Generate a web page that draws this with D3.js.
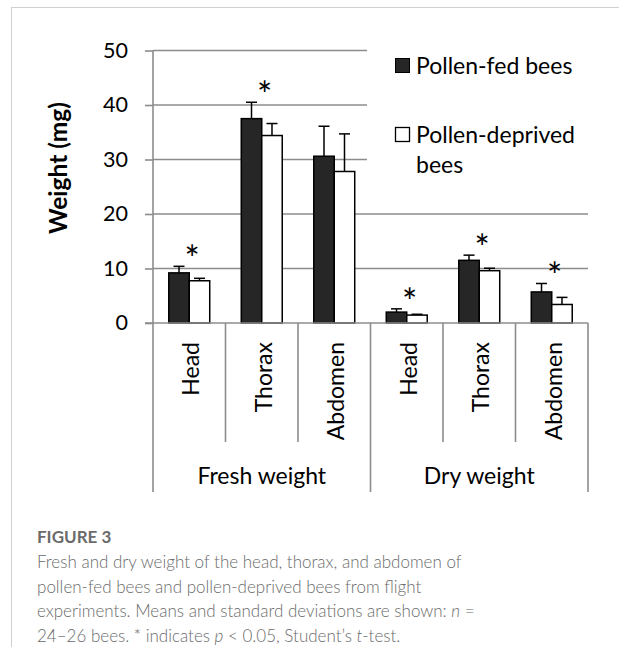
<!DOCTYPE html>
<html>
<head>
<meta charset="utf-8">
<script src="https://cdn.jsdelivr.net/npm/d3@7"></script>
<style>
  html, body { margin: 0; padding: 0; background: #fff; }
  svg { display: block; }
</style>
</head>
<body>
<svg id="chart" width="619" height="659"></svg>
<script>
// ---- data ----
const groups = ["Fresh weight", "Dry weight"];
const parts = ["Head", "Thorax", "Abdomen"];
const seriesNames = ["Pollen-fed bees", "Pollen-deprived bees"];
const fedMeans = [9.2, 37.5, 30.6, 2.0, 11.5, 5.7];
const fedSD = [1.2, 3.0, 5.5, 0.6, 0.95, 1.55];
const deprivedMeans = [7.75, 34.4, 27.8, 1.45, 9.6, 3.4];
const deprivedSD = [0.45, 2.2, 6.9, 0.15, 0.45, 1.3];
const significant = [true, true, false, true, true, true];
const yTicks = [0, 10, 20, 30, 40, 50];

(function () {
const categories = [];
groups.forEach(g => parts.forEach(p => categories.push({ id: g + "|" + p, group: g, part: p })));
categories.forEach((c, i) => {
  c.values = [
    { s: seriesNames[0], mean: fedMeans[i], sd: fedSD[i] },
    { s: seriesNames[1], mean: deprivedMeans[i], sd: deprivedSD[i] }
  ];
  c.sig = significant[i];
});

const svg = d3.select("#chart");
const FONT = "Lato, 'Open Sans', sans-serif";
const GRID = "#8c8c8c";

// frame
svg.append("line").attr("x1", 11).attr("x2", 619).attr("y1", 7.5).attr("y2", 7.5)
  .attr("stroke", "#d0d0d0").attr("stroke-width", 1);
svg.append("line").attr("x1", 11.5).attr("x2", 11.5).attr("y1", 7).attr("y2", 647)
  .attr("stroke", "#d0d0d0").attr("stroke-width", 1);

const pLeft = 153, pRight = 588, pTop = 50.5, pBottom = 323;
const x0 = d3.scaleBand().domain(categories.map(c => c.id)).range([pLeft, pRight]).paddingInner(0).paddingOuter(0);
const x1 = d3.scaleBand().domain(seriesNames).range([0, x0.bandwidth()]).paddingInner(0).paddingOuter(0.77);
const y = d3.scaleLinear().domain([0, 50]).range([pBottom, pTop]);

// gridlines
svg.append("g").selectAll("line").data(yTicks.filter(t => t > 0)).join("line")
  .attr("x1", pLeft).attr("x2", pRight)
  .attr("y1", d => y(d)).attr("y2", d => y(d))
  .attr("stroke", GRID).attr("stroke-width", 1.6);

// y axis
const yAxis = svg.append("g").attr("transform", `translate(${pLeft},0)`)
  .call(d3.axisLeft(y).tickValues(yTicks).tickSize(8).tickPadding(17));
yAxis.select(".domain").attr("stroke", GRID).attr("stroke-width", 1.6).attr("d", `M-0,${pTop}V${pBottom}`);
yAxis.selectAll(".tick line").attr("stroke", GRID).attr("stroke-width", 1.6);
yAxis.selectAll(".tick text").attr("font-family", FONT).attr("font-size", 21.5).attr("fill", "#000");

// legend background (masks gridlines)
svg.append("rect").attr("x", 367).attr("y", 40).attr("width", 223).attr("height", 135).attr("fill", "#fff");

// bars
const cat = svg.append("g").selectAll("g").data(categories).join("g")
  .attr("transform", d => `translate(${x0(d.id)},0)`);

cat.selectAll("rect").data(d => d.values).join("rect")
  .attr("x", d => x1(d.s)).attr("width", x1.bandwidth())
  .attr("y", d => y(d.mean)).attr("height", d => y(0) - y(d.mean))
  .attr("fill", d => d.s === seriesNames[0] ? "#262626" : "#fff")
  .attr("stroke", "#000").attr("stroke-width", 1.5);

// error bars
const err = cat.selectAll("g.err").data(d => d.values).join("g").attr("class", "err");
err.append("line")
  .attr("x1", d => x1(d.s) + x1.bandwidth() / 2).attr("x2", d => x1(d.s) + x1.bandwidth() / 2)
  .attr("y1", d => y(d.mean)).attr("y2", d => y(d.mean + d.sd))
  .attr("stroke", "#000").attr("stroke-width", 1.5);
err.append("line")
  .attr("x1", d => x1(d.s) + x1.bandwidth() / 2 - 5.5).attr("x2", d => x1(d.s) + x1.bandwidth() / 2 + 5.5)
  .attr("y1", d => y(d.mean + d.sd)).attr("y2", d => y(d.mean + d.sd))
  .attr("stroke", "#000").attr("stroke-width", 1.5);

// asterisks
cat.filter(d => d.sig).append("text")
  .attr("x", x0.bandwidth() / 2 + 3)
  .attr("y", d => y(d3.max(d.values, v => v.mean + v.sd)) + 6)
  .attr("text-anchor", "middle").attr("font-family", FONT).attr("font-size", 36).attr("fill", "#000")
  .text("*");

// x axis line
svg.append("line").attr("x1", pLeft - 8).attr("x2", pRight).attr("y1", pBottom).attr("y2", pBottom)
  .attr("stroke", GRID).attr("stroke-width", 1.6);

// separators
const boundaries = d3.range(categories.length + 1);
svg.append("g").selectAll("line").data(boundaries).join("line")
  .attr("x1", i => pLeft + i * x0.step()).attr("x2", i => pLeft + i * x0.step())
  .attr("y1", pBottom).attr("y2", i => (i % parts.length === 0) ? 492 : 442)
  .attr("stroke", GRID).attr("stroke-width", 1.6);

// category labels
svg.append("g").selectAll("text").data(categories).join("text")
  .attr("transform", d => `translate(${x0(d.id) + x0.bandwidth() / 2 + 1},342) rotate(-90)`)
  .attr("text-anchor", "end").attr("dominant-baseline", "central")
  .attr("font-family", FONT).attr("font-size", 23).attr("fill", "#000")
  .text(d => d.part);

// group labels
svg.append("g").selectAll("text").data(groups).join("text")
  .attr("x", g => {
    const ids = categories.filter(c => c.group === g).map(c => c.id);
    return (x0(ids[0]) + x0(ids[ids.length - 1]) + x0.bandwidth()) / 2;
  })
  .attr("y", 484)
  .attr("text-anchor", "middle").attr("font-family", FONT).attr("font-size", 23).attr("fill", "#000")
  .text(g => g);

// y title
svg.append("text").attr("transform", "translate(57,168) rotate(-90)")
  .attr("text-anchor", "middle").attr("dominant-baseline", "central")
  .attr("font-family", FONT).attr("font-weight", "bold").attr("font-size", 24.5).attr("fill", "#000")
  .text("Weight (mg)");

// legend
const legend = svg.append("g");
legend.append("rect").attr("x", 395.5).attr("y", 58.5).attr("width", 14).attr("height", 14)
  .attr("fill", "#262626").attr("stroke", "#000").attr("stroke-width", 1);
legend.append("text").attr("x", 416).attr("y", 74)
  .attr("font-family", FONT).attr("font-size", 23).attr("fill", "#000").text(seriesNames[0]);
legend.append("rect").attr("x", 395.5).attr("y", 127.5).attr("width", 14).attr("height", 14)
  .attr("fill", "#fff").attr("stroke", "#000").attr("stroke-width", 1.3);
const lt = legend.append("text").attr("font-family", FONT).attr("font-size", 23).attr("fill", "#000");
lt.append("tspan").attr("x", 416).attr("y", 143).text("Pollen-deprived");
lt.append("tspan").attr("x", 416).attr("y", 173).text("bees");

// caption
const cap = svg.append("g").attr("font-family", "Lato, 'Open Sans', sans-serif").attr("fill", "#6b6b6b");
cap.append("text").attr("x", 37).attr("y", 543).attr("font-size", 17).attr("font-weight", "bold").text("FIGURE 3");
const capLines = [
  [["Fresh and dry weight of the head, thorax, and abdomen of", false]],
  [["pollen-fed bees and pollen-deprived bees from flight", false]],
  [["experiments. Means and standard deviations are shown: ", false], ["n", true], [" =", false]],
  [["24\u201326 bees. * indicates ", false], ["p", true], [" < 0.05, Student\u2019s ", false], ["t", true], ["-test.", false]]
];
capLines.forEach((ln, i) => {
  const t = cap.append("text").attr("x", 37).attr("y", 568 + i * 24.5).attr("font-size", 17).attr("font-weight", 300);
  ln.forEach(([s, it]) => t.append("tspan").attr("font-style", it ? "italic" : "normal").text(s));
});
})();
</script>
</body>
</html>
